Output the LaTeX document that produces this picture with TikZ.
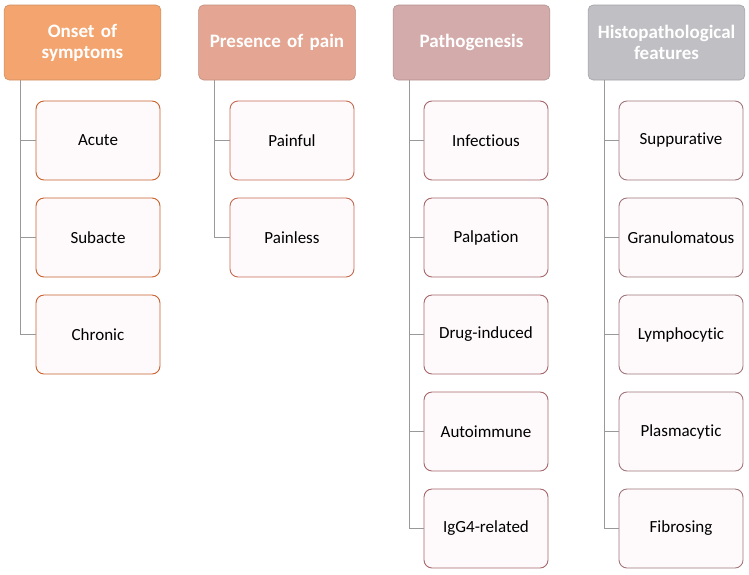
\documentclass[tikz,border=0pt]{standalone}
\usepackage{fontspec}
\setmainfont{Carlito}[Ligatures=NoCommon,WordSpace=0.8]
\usepackage{tikz}
\usetikzlibrary{positioning}
\definecolor{onset}{HTML}{F4A56F}
\definecolor{pain}{HTML}{E4A693}
\definecolor{patho}{HTML}{D3ABAB}
\definecolor{histo}{HTML}{BFBFC4}
\definecolor{onsetline}{HTML}{C8612C}
\definecolor{painline}{HTML}{C46A52}
\definecolor{patholine}{HTML}{A5676A}
\definecolor{histoline}{HTML}{A0767A}
\definecolor{boxfill}{HTML}{FEFAFC}
\tikzset{
  head/.style={rectangle,rounded corners=5pt,minimum width=153pt,minimum height=75pt,text width=150pt,align=center,text=white,font=\fontsize{19}{21}\selectfont\bfseries,draw=#1!85!black,line width=0.6pt,fill=#1},
  item/.style={rectangle,rounded corners=8pt,minimum width=124pt,minimum height=79pt,align=center,fill=boxfill,draw=#1,line width=0.9pt,font=\fontsize{17}{19}\selectfont},
  conn/.style={draw=black!40,line width=0.9pt}
}
\begin{document}
\begin{tikzpicture}[x=1pt,y=1pt]
\useasboundingbox (0,0) rectangle (749,-574);
% headers
\node at (82.5,-42.5)[head=onset](h1){Onset of\\symptoms};
\node at (277,-42.5)[head=pain](h2){Presence of pain};
\node at (471.5,-42.5)[head=patho](h3){Pathogenesis};
\node at (666.5,-42.5)[head=histo](h4){Histopathological\\features};
% onset of symptoms
\node at (98,-140.5)[item=onsetline](o1){Acute};
\node at (98,-237.5)[item=onsetline](o2){Subacte};
\node at (98,-334.5)[item=onsetline](o3){Chronic};
% presence of pain
\node at (292,-140.5)[item=painline](p1){Painful};
\node at (292,-237.5)[item=painline](p2){Painless};
% pathogenesis
\node at (486,-140.5)[item=patholine](g1){Infectious};
\node at (486,-237.5)[item=patholine](g2){Palpation};
\node at (486,-334.5)[item=patholine](g3){Drug-induced};
\node at (486,-431.5)[item=patholine](g4){Autoimmune};
\node at (486,-528.5)[item=patholine](g5){IgG4-related};
% histopathological features
\node at (681,-140.5)[item=histoline](f1){Suppurative};
\node at (681,-237.5)[item=histoline](f2){Granulomatous};
\node at (681,-334.5)[item=histoline](f3){Lymphocytic};
\node at (681,-431.5)[item=histoline](f4){Plasmacytic};
\node at (681,-528.5)[item=histoline](f5){Fibrosing};
% connectors
\coordinate (t1) at (20,-80);
\coordinate (t2) at (214,-80);
\coordinate (t3) at (409,-80);
\coordinate (t4) at (604,-80);
\draw[conn] (t1) |- (o3.west);
\draw[conn] (t1) |- (o1.west);
\draw[conn] (t1) |- (o2.west);
\draw[conn] (t2) |- (p2.west);
\draw[conn] (t2) |- (p1.west);
\draw[conn] (t3) |- (g5.west);
\draw[conn] (t3) |- (g1.west);
\draw[conn] (t3) |- (g2.west);
\draw[conn] (t3) |- (g3.west);
\draw[conn] (t3) |- (g4.west);
\draw[conn] (t4) |- (f5.west);
\draw[conn] (t4) |- (f1.west);
\draw[conn] (t4) |- (f2.west);
\draw[conn] (t4) |- (f3.west);
\draw[conn] (t4) |- (f4.west);
\end{tikzpicture}
\end{document}
